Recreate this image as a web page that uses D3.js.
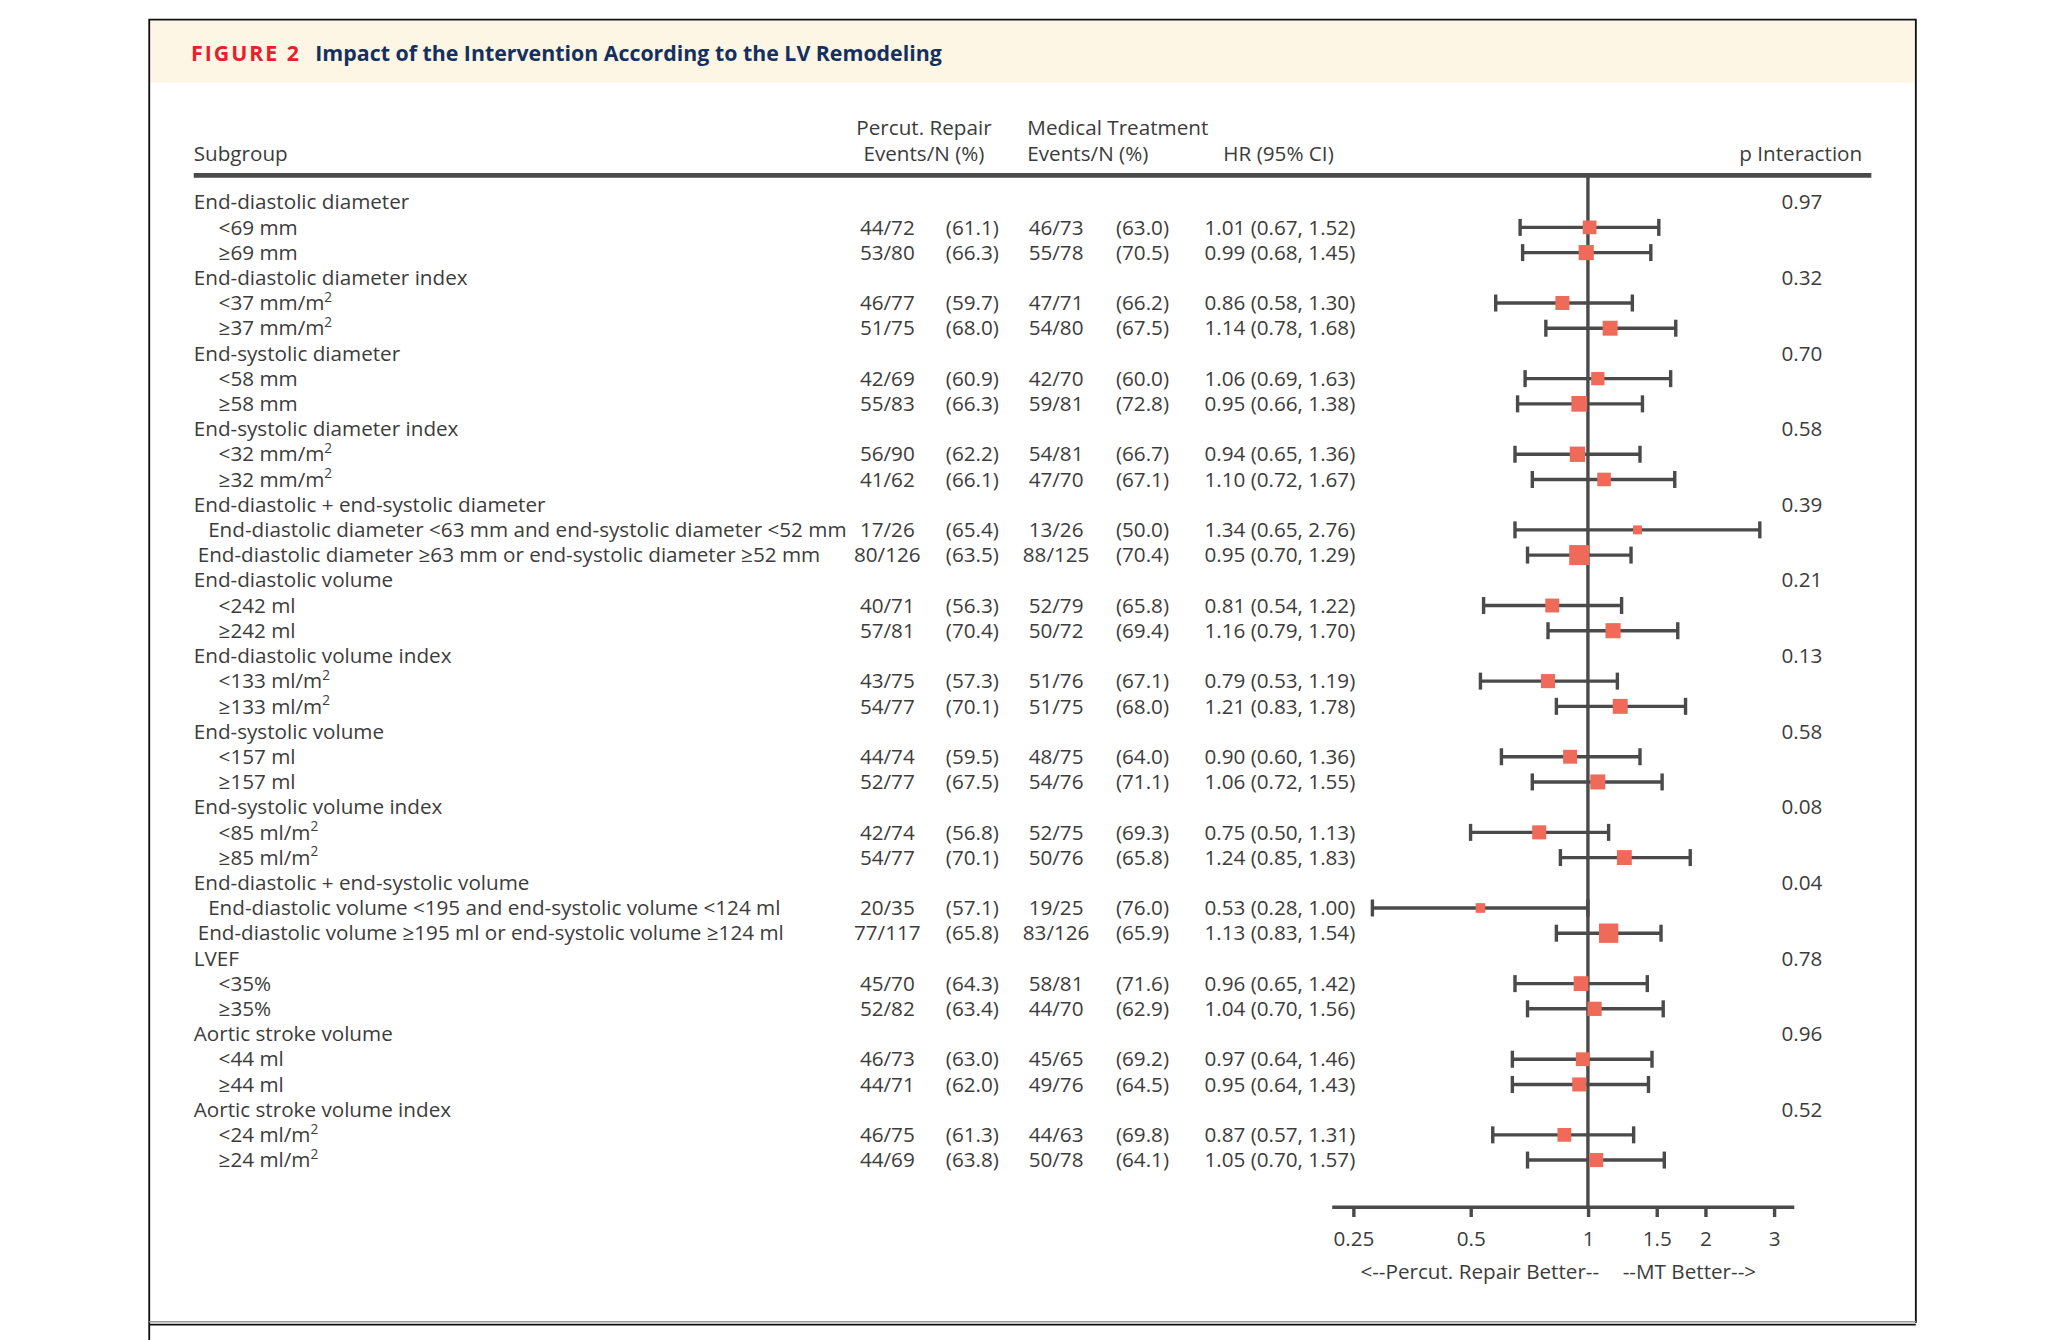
<!DOCTYPE html>
<html>
<head>
<meta charset="utf-8">
<script src="https://cdn.jsdelivr.net/npm/d3@7"></script>
<style>
  body { margin: 0; background: #fff; }
  svg { display: block; }
  text { font-family: "Open Sans", "Noto Sans", sans-serif; fill: #3c3c3c; }
</style>
</head>
<body>
<svg id="chart" width="2052" height="1340" viewBox="0 0 1568 1024"></svg>
<script>
const groups = [
  "End-diastolic diameter", "End-diastolic diameter index", "End-systolic diameter",
  "End-systolic diameter index", "End-diastolic + end-systolic diameter", "End-diastolic volume",
  "End-diastolic volume index", "End-systolic volume", "End-systolic volume index",
  "End-diastolic + end-systolic volume", "LVEF", "Aortic stroke volume", "Aortic stroke volume index"
];
const pInteraction = ["0.97", "0.32", "0.70", "0.58", "0.39", "0.21", "0.13", "0.58", "0.08", "0.04", "0.78", "0.96", "0.52"];

const subLabels = [
  "<69 mm", "≥69 mm", "<37 mm/m²", "≥37 mm/m²", "<58 mm", "≥58 mm", "<32 mm/m²", "≥32 mm/m²",
  "End-diastolic diameter <63 mm and end-systolic diameter <52 mm",
  "End-diastolic diameter ≥63 mm or end-systolic diameter ≥52 mm",
  "<242 ml", "≥242 ml", "<133 ml/m²", "≥133 ml/m²", "<157 ml", "≥157 ml", "<85 ml/m²", "≥85 ml/m²",
  "End-diastolic volume <195 and end-systolic volume <124 ml",
  "End-diastolic volume ≥195 ml or end-systolic volume ≥124 ml",
  "<35%", "≥35%", "<44 ml", "≥44 ml", "<24 ml/m²", "≥24 ml/m²"
];
const prEvents = [44, 53, 46, 51, 42, 55, 56, 41, 17, 80, 40, 57, 43, 54, 44, 52, 42, 54, 20, 77, 45, 52, 46, 44, 46, 44];
const prN = [72, 80, 77, 75, 69, 83, 90, 62, 26, 126, 71, 81, 75, 77, 74, 77, 74, 77, 35, 117, 70, 82, 73, 71, 75, 69];
const prPct = ["61.1", "66.3", "59.7", "68.0", "60.9", "66.3", "62.2", "66.1", "65.4", "63.5", "56.3", "70.4", "57.3", "70.1", "59.5", "67.5", "56.8", "70.1", "57.1", "65.8", "64.3", "63.4", "63.0", "62.0", "61.3", "63.8"];
const mtEvents = [46, 55, 47, 54, 42, 59, 54, 47, 13, 88, 52, 50, 51, 51, 48, 54, 52, 50, 19, 83, 58, 44, 45, 49, 44, 50];
const mtN = [73, 78, 71, 80, 70, 81, 81, 70, 26, 125, 79, 72, 76, 75, 75, 76, 75, 76, 25, 126, 81, 70, 65, 76, 63, 78];
const mtPct = ["63.0", "70.5", "66.2", "67.5", "60.0", "72.8", "66.7", "67.1", "50.0", "70.4", "65.8", "69.4", "67.1", "68.0", "64.0", "71.1", "69.3", "65.8", "76.0", "65.9", "71.6", "62.9", "69.2", "64.5", "69.8", "64.1"];
const hr = [1.01, 0.99, 0.86, 1.14, 1.06, 0.95, 0.94, 1.10, 1.34, 0.95, 0.81, 1.16, 0.79, 1.21, 0.90, 1.06, 0.75, 1.24, 0.53, 1.13, 0.96, 1.04, 0.97, 0.95, 0.87, 1.05];
const ciLow = [0.67, 0.68, 0.58, 0.78, 0.69, 0.66, 0.65, 0.72, 0.65, 0.70, 0.54, 0.79, 0.53, 0.83, 0.60, 0.72, 0.50, 0.85, 0.28, 0.83, 0.65, 0.70, 0.64, 0.64, 0.57, 0.70];
const ciHigh = [1.52, 1.45, 1.30, 1.68, 1.63, 1.38, 1.36, 1.67, 2.76, 1.29, 1.22, 1.70, 1.19, 1.78, 1.36, 1.55, 1.13, 1.83, 1.00, 1.54, 1.42, 1.56, 1.46, 1.43, 1.31, 1.57];

const tickValues = [0.25, 0.5, 1, 1.5, 2, 3];
const tickLabels = ["0.25", "0.5", "1", "1.5", "2", "3"];

const ink = "#4a4a4a";
const markColor = "#ef6a58";
const svg = d3.select("#chart");

// frame + header band
svg.append("rect").attr("x", 115).attr("y", 16).attr("width", 1348).attr("height", 47).attr("fill", "#fdf6e4");
svg.append("path").attr("d", "M114,1024V15H1464V1011").attr("fill", "none").attr("stroke", "#111").attr("stroke-width", 1.4);
svg.append("line").attr("x1", 114).attr("x2", 1464).attr("y1", 1010).attr("y2", 1010).attr("stroke", "#999").attr("stroke-width", 1.2);
svg.append("line").attr("x1", 114).attr("x2", 1464).attr("y1", 1012.3).attr("y2", 1012.3).attr("stroke", "#111").attr("stroke-width", 1.4);

const title = svg.append("text").attr("x", 146).attr("y", 46.5).attr("font-weight", 700).attr("font-size", 16.3);
title.append("tspan").text("FIGURE 2").style("fill", "#e3202b").attr("letter-spacing", 1.5);
title.append("tspan").attr("dx", 11).text("Impact of the Intervention According to the LV Remodeling").style("fill", "#14305f");

// column headers
const fs = 15.8;
const head = svg.append("g").attr("font-size", fs);
head.append("text").attr("x", 148).attr("y", 123).text("Subgroup");
head.append("text").attr("x", 706).attr("y", 103).attr("text-anchor", "middle").text("Percut. Repair");
head.append("text").attr("x", 706).attr("y", 123).attr("text-anchor", "middle").text("Events/N (%)");
head.append("text").attr("x", 785).attr("y", 103).text("Medical Treatment");
head.append("text").attr("x", 785).attr("y", 123).text("Events/N (%)");
head.append("text").attr("x", 977).attr("y", 123).attr("text-anchor", "middle").text("HR (95% CI)");
head.append("text").attr("x", 1423).attr("y", 123).attr("text-anchor", "end").text("p Interaction");
svg.append("line").attr("x1", 148).attr("x2", 1430).attr("y1", 134).attr("y2", 134).attr("stroke", ink).attr("stroke-width", 3.5);

// rows
const rows = [];
groups.forEach((g, gi) => {
  rows.push({ type: "group", label: g, p: pInteraction[gi] });
  [0, 1].forEach((k) => {
    const i = gi * 2 + k;
    rows.push({
      type: "sub", i, label: subLabels[i],
      pr: `${prEvents[i]}/${prN[i]}`, prPct: `(${prPct[i]})`,
      mt: `${mtEvents[i]}/${mtN[i]}`, mtPct: `(${mtPct[i]})`,
      hr: hr[i], lo: ciLow[i], hi: ciHigh[i],
      events: prEvents[i] + mtEvents[i],
    });
  });
});

const y = d3.scalePoint().domain(d3.range(rows.length)).range([154.5, 886.5]);
const x = d3.scaleLog().domain([0.22, 3.37]).range([1017.5, 1370.6]);
const size = d3.scaleLinear().domain(d3.extent(rows.filter((r) => r.type === "sub"), (r) => r.events)).range([6.8, 15.3]);

const labelX = (r) => {
  if (r.type === "group") return 148;
  if (r.label.startsWith("End-")) return r.label.includes("≥") ? 151 : 159;
  return 167;
};

const writeLabel = (sel, label) => {
  const parts = label.split("²");
  sel.append("tspan").text(parts[0]);
  if (parts.length > 1) {
    sel.append("tspan").attr("font-size", fs * 0.66).attr("dy", -6.5).text("2");
  }
};

const table = svg.append("g").attr("font-size", fs);
rows.forEach((r, ri) => {
  const by = y(ri) + 5.5;
  const t = table.append("text").attr("x", labelX(r)).attr("y", by);
  writeLabel(t, r.label);
  if (r.type === "group") {
    table.append("text").attr("x", 1377).attr("y", by).attr("text-anchor", "middle").text(r.p);
    return;
  }
  [[678, r.pr], [743, r.prPct], [807, r.mt], [873, r.mtPct],
   [978, `${r.hr.toFixed(2)} (${r.lo.toFixed(2)}, ${r.hi.toFixed(2)})`]].forEach(([cx, s]) => {
    table.append("text").attr("x", cx).attr("y", by).attr("text-anchor", "middle").text(s);
  });
});

// forest plot
const axisY = 922;
svg.append("line").attr("x1", x(1)).attr("x2", x(1)).attr("y1", 134).attr("y2", axisY)
  .attr("stroke", ink).attr("stroke-width", 2.6);

const subs = rows.map((r, ri) => ({ ...r, ri })).filter((r) => r.type === "sub");
const ci = svg.append("g").attr("stroke", ink).attr("stroke-width", 2.6).attr("fill", "none");
ci.selectAll("line.ci").data(subs).join("line").attr("class", "ci")
  .attr("x1", (d) => x(d.lo)).attr("x2", (d) => x(d.hi))
  .attr("y1", (d) => y(d.ri)).attr("y2", (d) => y(d.ri));
ci.selectAll("line.capl").data(subs).join("line").attr("class", "capl")
  .attr("x1", (d) => x(d.lo)).attr("x2", (d) => x(d.lo))
  .attr("y1", (d) => y(d.ri) - 6.5).attr("y2", (d) => y(d.ri) + 6.5);
ci.selectAll("line.caph").data(subs).join("line").attr("class", "caph")
  .attr("x1", (d) => x(d.hi)).attr("x2", (d) => x(d.hi))
  .attr("y1", (d) => y(d.ri) - 6.5).attr("y2", (d) => y(d.ri) + 6.5);

svg.append("g").selectAll("rect").data(subs).join("rect")
  .attr("x", (d) => x(d.hr) - size(d.events) / 2)
  .attr("y", (d) => y(d.ri) - size(d.events) / 2)
  .attr("width", (d) => size(d.events))
  .attr("height", (d) => size(d.events))
  .attr("fill", markColor);

const axis = svg.append("g").attr("transform", `translate(0,${axisY})`)
  .call(d3.axisBottom(x).tickValues(tickValues).tickFormat((d, i) => tickLabels[i]).tickSize(8).tickSizeOuter(0).tickPadding(11));
axis.select(".domain").attr("stroke", ink).attr("stroke-width", 2.6);
axis.selectAll(".tick line").attr("stroke", ink).attr("stroke-width", 2.6);
axis.selectAll(".tick text").attr("font-size", fs).attr("font-family", null).style("fill", "#3c3c3c");

svg.append("text").attr("x", 1222).attr("y", 977.5).attr("text-anchor", "end").attr("font-size", fs).text("<--Percut. Repair Better--");
svg.append("text").attr("x", 1240).attr("y", 977.5).attr("font-size", fs).text("--MT Better-->");
</script>
</body>
</html>
